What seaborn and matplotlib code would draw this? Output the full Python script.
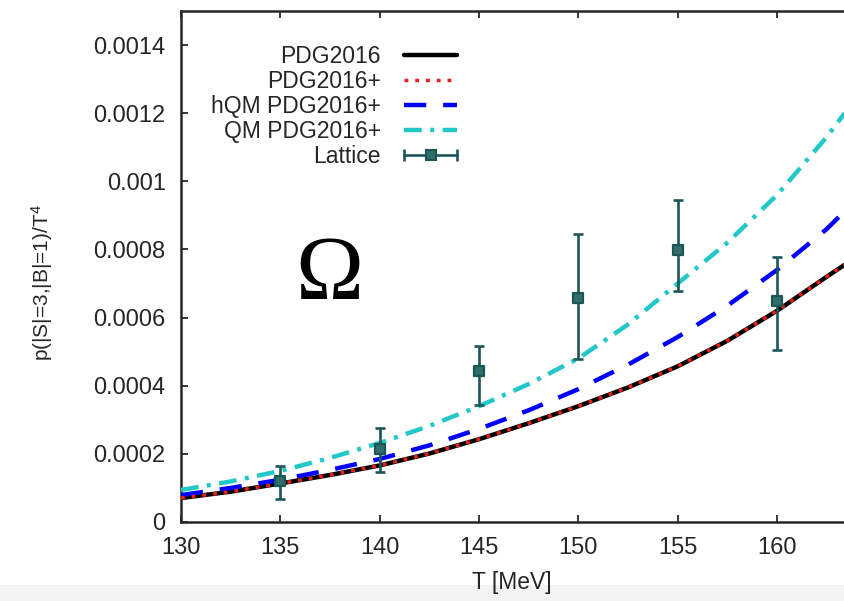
import numpy as np
import pandas as pd
import matplotlib
matplotlib.use("Agg")
import matplotlib.pyplot as plt
import seaborn as sns
from matplotlib.lines import Line2D
from matplotlib.legend_handler import HandlerTuple, HandlerLine2D
from matplotlib.patches import Rectangle

# ---- data -------------------------------------------------------------
T_curve = [130, 132.5, 135, 137.5, 140, 142.5, 145, 147.5, 150, 152.5, 155, 157.5, 160, 162.5, 163.4]
pdg2016 = [7.03e-5, 8.9e-5, 1.13e-4, 1.38e-4, 1.66e-4, 2.01e-4, 2.43e-4, 2.90e-4, 3.40e-4, 3.95e-4,
           4.57e-4, 5.32e-4, 6.20e-4, 7.20e-4, 7.55e-4]
pdg2016p = [7.03e-5, 8.9e-5, 1.13e-4, 1.38e-4, 1.66e-4, 2.01e-4, 2.43e-4, 2.90e-4, 3.40e-4, 3.95e-4,
            4.57e-4, 5.32e-4, 6.20e-4, 7.20e-4, 7.55e-4]
hqm_pdg2016p = [7.9e-5, 1.00e-4, 1.24e-4, 1.53e-4, 1.85e-4, 2.25e-4, 2.73e-4, 3.28e-4, 3.90e-4, 4.62e-4,
                5.43e-4, 6.35e-4, 7.40e-4, 8.60e-4, 9.12e-4]
qm_pdg2016p = [9.4e-5, 1.19e-4, 1.50e-4, 1.88e-4, 2.32e-4, 2.82e-4, 3.40e-4, 4.05e-4, 4.80e-4, 5.80e-4,
               7.00e-4, 8.20e-4, 9.60e-4, 1.13e-3, 1.20e-3]

T_lat = [135, 140, 145, 150, 155, 160]
lat_val = [1.20e-4, 2.14e-4, 4.43e-4, 6.58e-4, 7.99e-4, 6.48e-4]
lat_hi = [1.64e-4, 2.75e-4, 5.18e-4, 8.45e-4, 9.45e-4, 7.79e-4]
lat_lo = [0.67e-4, 1.46e-4, 3.43e-4, 4.79e-4, 6.77e-4, 5.04e-4]

labels = ["PDG2016", "PDG2016+", "hQM PDG2016+", "QM PDG2016+", "Lattice"]
xticks = [130, 135, 140, 145, 150, 155, 160]
yticks = [0, 0.0002, 0.0004, 0.0006, 0.0008, 0.001, 0.0012, 0.0014]
ytick_labels = ["0", "0.0002", "0.0004", "0.0006", "0.0008", "0.001", "0.0012", "0.0014"]

# ---- style ------------------------------------------------------------
sns.set_style("ticks")
plt.rcParams["font.family"] = ["Liberation Sans", "DejaVu Sans"]
plt.rcParams["mathtext.fontset"] = "custom"
plt.rcParams["mathtext.rm"] = "Liberation Sans"
plt.rcParams["mathtext.it"] = "Liberation Sans"

c_black = "#000000"
c_red = "#e8201c"
c_blue = "#0000ff"
c_cyan = "#22c8c8"
c_lat = "#1d5656"

W, H = 844, 601
fig = plt.figure(figsize=(W / 100, H / 100), dpi=100)
fig.patch.set_facecolor("white")
fig.patches.append(Rectangle((0, 0), 1, 16 / H, transform=fig.transFigure,
                             facecolor="#f3f3f3", edgecolor="none", zorder=-5))

x0, x1 = 181, 844
y_top, y_bot = 11, 522
ax = fig.add_axes([x0 / W, (H - y_bot) / H, (x1 - x0) / W, (y_bot - y_top) / H])
ax.set_zorder(2)
ax.patch.set_alpha(0)

df = pd.DataFrame({"T": T_curve, "pdg": pdg2016, "pdgp": pdg2016p,
                   "hqm": hqm_pdg2016p, "qm": qm_pdg2016p})

lw = 3.2
sns.lineplot(data=df, x="T", y="pdg", ax=ax, color=c_black, lw=lw, zorder=3)
sns.lineplot(data=df, x="T", y="pdgp", ax=ax, color=c_red, lw=2.5,
             linestyle=(0, (1.1, 2.0)), dash_capstyle="butt", zorder=4)
sns.lineplot(data=df, x="T", y="hqm", ax=ax, color=c_blue, lw=lw,
             linestyle=(0, (5.0, 3.8)), dash_capstyle="butt", zorder=3)
sns.lineplot(data=df, x="T", y="qm", ax=ax, color=c_cyan, lw=lw,
             linestyle=(0, (4.0, 1.9, 0.9, 1.9)), dash_capstyle="butt", zorder=3)

lat_val_a = np.array(lat_val)
yerr = [lat_val_a - np.array(lat_lo), np.array(lat_hi) - lat_val_a]
ax.errorbar(T_lat, lat_val, yerr=yerr, fmt="none", ecolor=c_lat, elinewidth=1.9,
            capsize=3.5, capthick=1.9, zorder=5)
sns.scatterplot(x=T_lat, y=lat_val, ax=ax, marker="s", s=55, color="#2f6e6a",
                edgecolor=c_lat, linewidth=1.6, zorder=6)

ax.text(137.45, 0.000656, "\u03a9", fontsize=66, family=["Liberation Serif", "DejaVu Serif"],
        ha="center", va="baseline", color="black")

ax.set_xlim(130, 163.37)
ax.set_ylim(0, 0.0015)
ax.set_xticks(xticks)
ax.set_xticklabels([str(t) for t in xticks])
ax.set_yticks(yticks)
ax.set_yticklabels(ytick_labels)
ax.tick_params(axis="both", direction="in", length=5, width=1.3, labelsize=17,
               top=True, right=False, pad=11)
for s in ["left", "bottom", "top"]:
    ax.spines[s].set_linewidth(1.8)
ax.spines["right"].set_visible(False)

ax.set_xlabel("T [MeV]", fontsize=16.5)
ax.xaxis.set_label_coords(512 / W, (H - 582) / H, transform=fig.transFigure)
ax.xaxis.label.set_va("center")
ax.set_ylabel(r"p(|S|=3,|B|=1)/T$^4$", fontsize=15)
ax.yaxis.set_label_coords(42 / W, (H - 283) / H, transform=fig.transFigure)
ax.yaxis.label.set_va("center")

# legend
h1 = Line2D([], [], color=c_black, lw=lw)
h2 = Line2D([], [], color=c_red, lw=2.5, linestyle=(0, (1.1, 2.0)), dash_capstyle="butt")
h3 = Line2D([], [], color=c_blue, lw=lw, linestyle=(0, (5.0, 3.8)), dash_capstyle="butt")
h4 = Line2D([], [], color=c_cyan, lw=lw, linestyle=(0, (4.0, 1.9, 0.9, 1.9)), dash_capstyle="butt")
h5a = Line2D([], [], color=c_lat, lw=1.9, marker="|", markersize=9, markeredgewidth=1.9)
h5b = Line2D([], [], color="#2f6e6a", lw=0, marker="s", markersize=7,
             markeredgecolor=c_lat, markeredgewidth=1.5)
leg = ax.legend([h1, h2, h3, h4, (h5a, h5b)], labels, loc="upper right",
                bbox_to_anchor=(464 / W, (H - 45) / H), bbox_transform=fig.transFigure,
                frameon=False, markerfirst=False, fontsize=16.5, handlelength=2.9,
                handletextpad=0.72, labelspacing=0.087, borderpad=0, borderaxespad=0,
                numpoints=2,
                handler_map={h5b: HandlerLine2D(numpoints=1),
                             tuple: HandlerTuple(ndivide=1, pad=0)})
for t in leg.get_texts():
    t.set_ha("right")

fig.savefig("out.png", dpi=100, facecolor=fig.get_facecolor())
